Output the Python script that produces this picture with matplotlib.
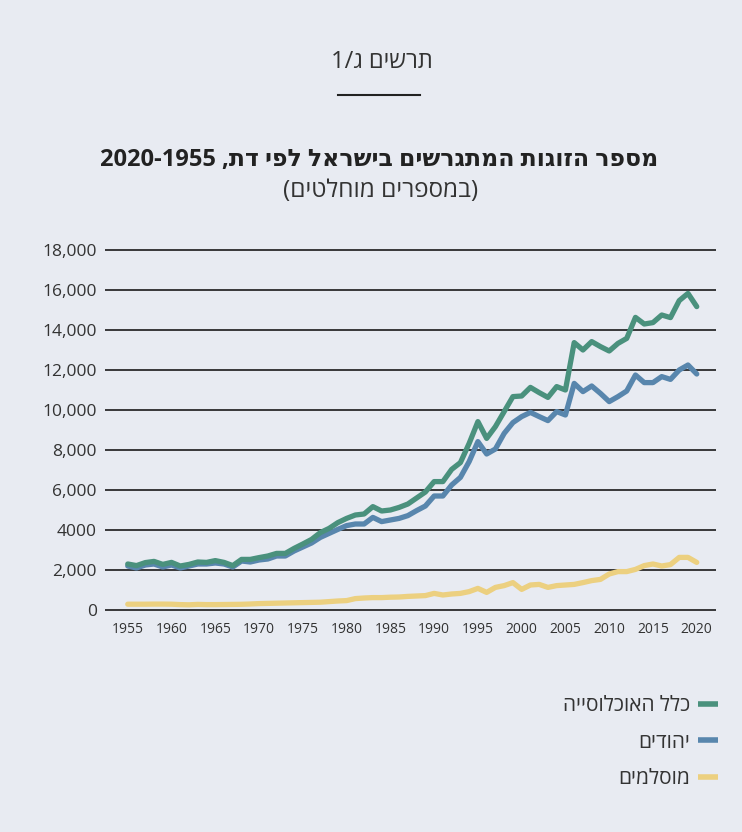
import numpy as np
import matplotlib
matplotlib.use('Agg')
import matplotlib.pyplot as plt
from matplotlib.lines import Line2D

# --- data
years = np.arange(1955, 2021)

total = [2300, 2220, 2370, 2430, 2280, 2380, 2200, 2280, 2400, 2380,
         2470, 2380, 2220, 2530, 2530, 2620, 2700, 2830, 2830, 3080,
         3300, 3530, 3870, 4080, 4370, 4580, 4750, 4800, 5170, 4950,
         5000, 5130, 5300, 5600, 5900, 6420, 6420, 7030, 7370, 8330,
         9420, 8580, 9170, 9920, 10670, 10700, 11130, 10870, 10630, 11170,
         11000, 13370, 13000, 13420, 13170, 12950, 13330, 13580, 14630, 14300,
         14370, 14750, 14620, 15470, 15830, 15170]

jews = [2200, 2100, 2250, 2300, 2150, 2250, 2100, 2200, 2300, 2300,
        2350, 2300, 2150, 2450, 2400, 2500, 2550, 2700, 2700, 2950,
        3150, 3350, 3630, 3830, 4030, 4220, 4300, 4300, 4630, 4420,
        4500, 4580, 4720, 4970, 5200, 5700, 5700, 6250, 6630, 7420,
        8420, 7800, 8050, 8830, 9370, 9670, 9880, 9670, 9470, 9920,
        9750, 11330, 10920, 11200, 10830, 10420, 10670, 10950, 11750, 11370,
        11370, 11670, 11530, 12000, 12250, 11800]

muslims = [290, 290, 290, 295, 295, 290, 270, 260, 280, 270,
           270, 275, 280, 285, 300, 320, 330, 340, 350, 360,
           370, 380, 390, 420, 450, 470, 570, 600, 620, 620,
           640, 650, 680, 700, 720, 830, 750, 800, 830, 920,
           1080, 880, 1130, 1220, 1370, 1030, 1250, 1280, 1130, 1220,
           1250, 1280, 1370, 1470, 1530, 1800, 1920, 1920, 2030, 2220,
           2300, 2200, 2270, 2630, 2630, 2380]

series_labels = ['כלל האוכלוסייה', 'יהודים', 'מוסלמים']
series_colors = ['#4a917d', '#5886ad', '#ecd080']

y_ticks = [0, 2000, 4000, 6000, 8000, 10000, 12000, 14000, 16000, 18000]
y_tick_labels = ['0', '2,000', '4000', '6,000', '8,000', '10,000',
                 '12,000', '14,000', '16,000', '18,000']
x_ticks = list(range(1955, 2021, 5))

chart_no = 'תרשים ג/1'
title = 'מספר הזוגות המתגרשים בישראל לפי דת, 1955-2020'
subtitle = '(במספרים מוחלטים)'


def rtl(s):
    # matplotlib has no bidi support: build the visual (left-to-right) order
    rev = s[::-1]
    mirror = {'(': ')', ')': '('}
    rev = ''.join(mirror.get(c, c) for c in rev)
    out, run = '', ''
    for c in rev:
        if c.isdigit():
            run += c
        else:
            out += run[::-1] + c
            run = ''
    return out + run[::-1]


BG = '#e8ebf2'
TXT = '#333333'
FONT = ['Open Sans', 'DejaVu Sans']
plt.rcParams['font.family'] = FONT

W, H = 742, 832
fig = plt.figure(figsize=(W / 100, H / 100), dpi=100, facecolor=BG)

# axes: x 105..716 px, y 245..615 px
ax = fig.add_axes([105 / W, 1 - 615 / H, (716 - 105) / W, 370 / H])
ax.set_facecolor(BG)
ax.set_xlim(1952.4, 2022.2)
ax.set_ylim(-250, 18250)

for yv in y_ticks:
    ax.axhline(yv, color='#1a1a1a', lw=1.2, zorder=1)

lw = 3.8
l3, = ax.plot(years, muslims, color=series_colors[2], lw=lw,
              solid_joinstyle='round', solid_capstyle='round', zorder=3)
l2, = ax.plot(years, jews, color=series_colors[1], lw=lw,
              solid_joinstyle='round', solid_capstyle='round', zorder=3)
l1, = ax.plot(years, total, color=series_colors[0], lw=lw,
              solid_joinstyle='round', solid_capstyle='round', zorder=4)

ax.set_yticks(y_ticks)
ax.set_yticklabels(y_tick_labels)
ax.set_xticks(x_ticks)
ax.set_xticklabels([str(x) for x in x_ticks])
ax.tick_params(axis='y', length=0, pad=6, labelsize=12.5, labelcolor=TXT)
ax.tick_params(axis='x', length=0, pad=5, labelsize=10, labelcolor=TXT)
for sp in ax.spines.values():
    sp.set_visible(False)

# headings
fig.text(382 / W, 1 - 62 / H, rtl(chart_no), ha='center', va='center',
         fontsize=17, color=TXT)
fig.add_artist(Line2D([338 / W, 420 / W], [1 - 95 / H, 1 - 95 / H],
                      color='#222222', lw=1.5))
fig.text(379 / W, 1 - 160 / H, rtl(title), ha='center', va='center',
         fontsize=17, fontweight='bold', color='#222222')
fig.text(381 / W, 1 - 191 / H, rtl(subtitle), ha='center', va='center',
         fontsize=17.5, color=TXT)

# legend, marker on the right of the text
handles = [Line2D([], [], color=c, lw=4, solid_capstyle='butt') for c in series_colors]
leg = fig.legend(handles, [rtl(s) for s in series_labels], loc='upper right',
                 bbox_to_anchor=(718 / W, 1 - 695 / H), frameon=False,
                 markerfirst=False, fontsize=15, labelcolor=TXT,
                 handlelength=0.95, handletextpad=0.4, labelspacing=0.75,
                 borderpad=0, borderaxespad=0)
for t in leg.get_texts():
    t.set_ha('right')

fig.savefig('out.png', dpi=100, facecolor=BG)
